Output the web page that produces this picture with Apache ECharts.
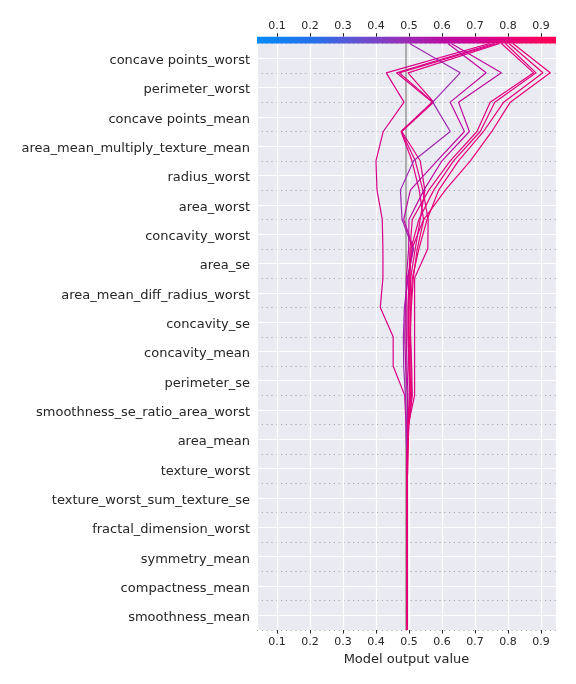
<!DOCTYPE html>
<html><head><meta charset="utf-8">
<script src="https://cdn.jsdelivr.net/npm/echarts@6/dist/echarts.min.js"></script>
<style>html,body{margin:0;padding:0;background:#fff}#c{width:576px;height:684px}</style>
</head><body><div id="c"></div>
<script>
// Features, top to bottom
const features = [
  'concave points_worst','perimeter_worst','concave points_mean','area_mean_multiply_texture_mean',
  'radius_worst','area_worst','concavity_worst','area_se','area_mean_diff_radius_worst',
  'concavity_se','concavity_mean','perimeter_se','smoothness_se_ratio_area_worst','area_mean',
  'texture_worst','texture_worst_sum_texture_se','fractal_dimension_worst','symmetry_mean',
  'compactness_mean','smoothness_mean'
];
const baseValue = 0.494;
const xMin = 0.0394, xMax = 0.9455;
// Cumulative model output at each level, from top (final prediction) to bottom (base value)
const sample01 = [0.745,0.431,0.485,0.422,0.400,0.403,0.419,0.421,0.421,0.413,0.452,0.452,0.487,0.491,0.493,0.494,0.494,0.494,0.494,0.494,0.494];
const sample02 = [0.758,0.462,0.570,0.476,0.509,0.531,0.544,0.509,0.500,0.497,0.497,0.500,0.503,0.498,0.496,0.495,0.494,0.494,0.494,0.494,0.494];
const sample03 = [0.768,0.470,0.573,0.477,0.519,0.542,0.558,0.557,0.517,0.517,0.517,0.517,0.517,0.498,0.496,0.495,0.494,0.494,0.494,0.494,0.494];
const sample04 = [0.775,0.497,0.575,0.478,0.534,0.548,0.534,0.519,0.505,0.503,0.505,0.508,0.510,0.500,0.496,0.495,0.494,0.494,0.494,0.494,0.494];
const sample05 = [0.502,0.655,0.572,0.625,0.514,0.474,0.479,0.512,0.497,0.486,0.483,0.484,0.489,0.492,0.493,0.494,0.494,0.494,0.494,0.494,0.494];
const sample06 = [0.618,0.734,0.625,0.668,0.585,0.504,0.484,0.514,0.495,0.489,0.487,0.490,0.495,0.496,0.495,0.494,0.494,0.494,0.494,0.494,0.494];
const sample07 = [0.628,0.780,0.650,0.683,0.600,0.545,0.500,0.499,0.492,0.491,0.492,0.494,0.497,0.496,0.495,0.494,0.494,0.494,0.494,0.494,0.494];
const sample08 = [0.780,0.878,0.746,0.706,0.625,0.560,0.510,0.503,0.500,0.498,0.498,0.500,0.502,0.497,0.495,0.494,0.494,0.494,0.494,0.494,0.494];
const sample09 = [0.792,0.885,0.760,0.716,0.635,0.575,0.530,0.506,0.503,0.500,0.499,0.501,0.504,0.498,0.495,0.494,0.494,0.494,0.494,0.494,0.494];
const sample10 = [0.803,0.906,0.787,0.726,0.650,0.590,0.555,0.530,0.510,0.505,0.502,0.503,0.505,0.497,0.495,0.494,0.494,0.494,0.494,0.494,0.494];
const sample11 = [0.815,0.928,0.807,0.751,0.686,0.610,0.545,0.525,0.513,0.507,0.504,0.506,0.508,0.499,0.496,0.495,0.494,0.494,0.494,0.494,0.494];
const samples = [sample01,sample02,sample03,sample04,sample05,sample06,sample07,sample08,sample09,sample10,sample11];

// colormap (blue -> red)
const cmapStops = [
  [0.00,'#008bfb'],[0.20,'#2a6ee8'],[0.35,'#6a4fd0'],[0.50,'#9a2bb4'],
  [0.62,'#b80ea3'],[0.75,'#d40090'],[0.88,'#ec0070'],[1.00,'#ff0051']
];
function hex2rgb(h){return [parseInt(h.slice(1,3),16),parseInt(h.slice(3,5),16),parseInt(h.slice(5,7),16)];}
function cmap(t){
  t=Math.max(0,Math.min(1,t));
  for(let i=1;i<cmapStops.length;i++){
    if(t<=cmapStops[i][0]){
      const [t0,c0]=cmapStops[i-1],[t1,c1]=cmapStops[i];
      const f=(t-t0)/(t1-t0), a=hex2rgb(c0), b=hex2rgb(c1);
      return 'rgb('+a.map((v,k)=>Math.round(v+(b[k]-v)*f)).join(',')+')';
    }
  }
  return cmapStops[cmapStops.length-1][1];
}

const nLevels = features.length;
// category axis with half-step positions: odd index = feature center
const yCats = [];
for(let k=0;k<=2*nLevels;k++){ yCats.push(k%2===1 ? features[nLevels-1-(k-1)/2] : ''); }

const G = {left:257, right:20, top:43.5, bottom:54};
const chart = echarts.init(document.getElementById('c'), null, {renderer:'canvas'});
const txt = '#262626';
const font = 'DejaVu Sans';
const tickFmt = v=>(Math.abs(v-Math.round(v*10)/10)<1e-6 ? v.toFixed(1) : '');

const series = [{
  type:'line', data:[], xAxisIndex:0, yAxisIndex:0, z:1, silent:true,
  markLine:{silent:true, z:1, symbol:'none', label:{show:false}, animation:false,
    lineStyle:{color:'#a6a6a6', width:1.8, type:'solid'}, data:[{xAxis:baseValue}]}
}];
samples.forEach((s,i)=>{
  const col = cmap((s[0]-xMin)/(xMax-xMin));
  series.push({
    type:'line', name:'s'+i, xAxisIndex:0, yAxisIndex:0, z:10, symbol:'none', silent:true,
    animation:false, lineStyle:{color:col, width:1.2},
    data: s.map((v,j)=>[v, nLevels-j])
  });
});

chart.setOption({
  animation:false,
  backgroundColor:'#ffffff',
  grid:{left:G.left, right:G.right, top:G.top, bottom:G.bottom, show:true, backgroundColor:'#EAEAF2', borderWidth:0,
    containLabel:false, outerBoundsMode:'none'},
  xAxis:[{
    type:'value', min:xMin, max:xMax, splitNumber:9, minInterval:0.1, maxInterval:0.1, position:'bottom',
    axisLine:{show:false}, axisTick:{show:true, length:3.5, lineStyle:{color:txt, width:1}},
    axisLabel:{color:txt, fontSize:11, fontFamily:font, margin:7, showMinLabel:false, showMaxLabel:false, formatter:tickFmt},
    splitLine:{show:true, lineStyle:{color:'#ffffff', width:1.2}},
    name:'Model output value', nameLocation:'middle', nameGap:20,
    nameTextStyle:{color:txt, fontSize:13, fontFamily:font}
  },{
    type:'value', min:xMin, max:xMax, splitNumber:9, minInterval:0.1, maxInterval:0.1, position:'top', offset:6.8,
    axisLine:{show:false}, axisTick:{show:true, length:3.5, lineStyle:{color:txt, width:1}},
    axisLabel:{color:txt, fontSize:11, fontFamily:font, margin:5, showMinLabel:false, showMaxLabel:false, formatter:tickFmt},
    splitLine:{show:false}
  }],
  yAxis:[{
    type:'value', min:0, max:nLevels, interval:1, position:'right',
    axisLine:{show:false}, axisTick:{show:false}, axisLabel:{show:false},
    splitLine:{show:true, lineStyle:{color:'#a8a8b0', width:1, type:[1.2,3.6]}}
  },{
    type:'category', data:yCats, boundaryGap:false, position:'left',
    axisLine:{show:false}, axisTick:{show:false},
    axisLabel:{margin:7, interval:(idx)=>idx%2===1,
      formatter:v=>'{f|'+v+'}',
      rich:{f:{color:txt, fontSize:13, fontFamily:font, padding:[5,0,0,0]}}},
    splitLine:{show:true, interval:(idx)=>idx%2===1, lineStyle:{color:'#ffffff', width:1.2}}
  }],
  series: series,
  graphic:[{
    type:'rect', z:100, silent:true,
    shape:{x:G.left, y:G.top-6.8, width:576-G.left-G.right, height:6.8},
    style:{fill:new echarts.graphic.LinearGradient(0,0,1,0, cmapStops.map(([o,c])=>({offset:o,color:c})))}
  }]
});
</script></body></html>
